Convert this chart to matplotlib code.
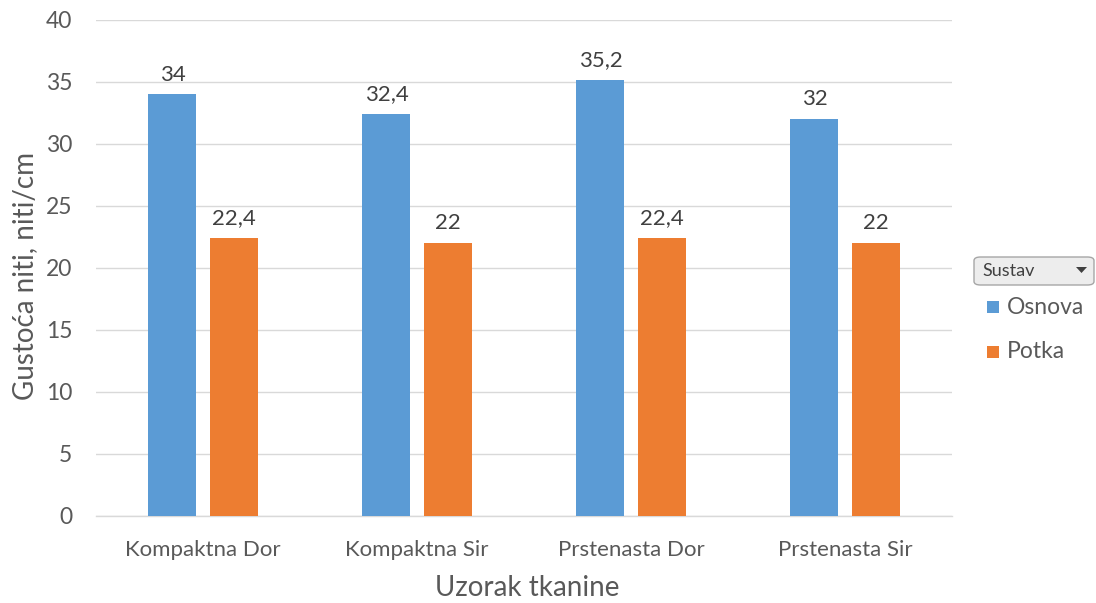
import matplotlib
matplotlib.use("Agg")
import matplotlib.pyplot as plt
from matplotlib.patches import FancyBboxPatch, Rectangle
import numpy as np

categories = ["Kompaktna Dor", "Kompaktna Sir", "Prstenasta Dor", "Prstenasta Sir"]
osnova = [34, 32.4, 35.2, 32]
potka = [22.4, 22, 22.4, 22]
series_names = ["Osnova", "Potka"]
legend_title = "Sustav"

BLUE = "#5B9BD5"
ORANGE = "#ED7D31"
TEXT = "#595959"
GRID = "#D9D9D9"

plt.rcParams["font.family"] = ["Lato", "DejaVu Sans"]

W, H = 1096, 603
fig = plt.figure(figsize=(W / 100, H / 100), dpi=100)
ax = fig.add_axes([96 / W, 1 - 516 / H, 856 / W, 496 / H])

x = np.arange(len(categories))
w = 0.224
off = 0.143
b1 = ax.bar(x - off, osnova, w, color=BLUE, zorder=3)
b2 = ax.bar(x + off, potka, w, color=ORANGE, zorder=3)


def fmt(v):
    return f"{v:g}".replace(".", ",")


for bars, vals in ((b1, osnova), (b2, potka)):
    for r, v in zip(bars, vals):
        ax.annotate(fmt(v), (r.get_x() + r.get_width() / 2, v), xytext=(0, 7),
                    textcoords="offset points", ha="center", va="bottom",
                    fontsize=16, color="#404040")

ax.set_xlim(-0.5, len(categories) - 0.5)
ax.set_ylim(0, 40)
ax.set_yticks(np.arange(0, 41, 5))
ax.set_xticks(x)
ax.set_xticklabels(categories)
ax.tick_params(axis="both", length=0, colors=TEXT)
ax.tick_params(axis="x", pad=17, labelsize=16)
ax.tick_params(axis="y", pad=17, labelsize=16.5)
ax.yaxis.grid(True, color=GRID, linewidth=1, zorder=0)
for s in ("top", "right", "left"):
    ax.spines[s].set_visible(False)
ax.spines["bottom"].set_color(GRID)
ax.spines["bottom"].set_linewidth(1)

ax.set_ylabel("Gustoća niti, niti/cm", fontsize=20, color=TEXT)
ax.yaxis.set_label_coords(-(96 - 25) / 856, (516 - 276) / 496)
ax.set_xlabel("Uzorak tkanine", fontsize=20, color=TEXT)
ax.xaxis.set_label_coords((527 - 96) / 856, -(588 - 516) / 496)
ax.xaxis.label.set_va("center")
ax.yaxis.label.set_va("center")


def fx(px):
    return px / W


def fy(py):
    return 1 - py / H


# series filter box with drop-down arrow
box = FancyBboxPatch((fx(974), fy(285)), fx(120), 28 / H,
                     boxstyle="round,pad=0,rounding_size=0.006",
                     transform=fig.transFigure, facecolor="#EDEDED",
                     edgecolor="#A6A6A6", linewidth=1)
fig.patches.append(box)
fig.text(fx(982), fy(271), legend_title, fontsize=13, color="#404040",
         ha="left", va="center")
fig.patches.append(plt.Polygon([[fx(1076), fy(267)], [fx(1087), fy(267)], [fx(1081.5), fy(273)]],
                               closed=True, transform=fig.transFigure,
                               facecolor="#404040", edgecolor="none"))

for i, (name, col) in enumerate(zip(series_names, [BLUE, ORANGE])):
    yc = 307 + i * 45
    fig.patches.append(Rectangle((fx(987), fy(yc + 6)), 12 / W, 12 / H,
                                 transform=fig.transFigure, facecolor=col,
                                 edgecolor="none"))
    fig.text(fx(1007), fy(yc), name, fontsize=16.5, color=TEXT, ha="left", va="center")

fig.savefig("out.png", dpi=100, facecolor="white")
